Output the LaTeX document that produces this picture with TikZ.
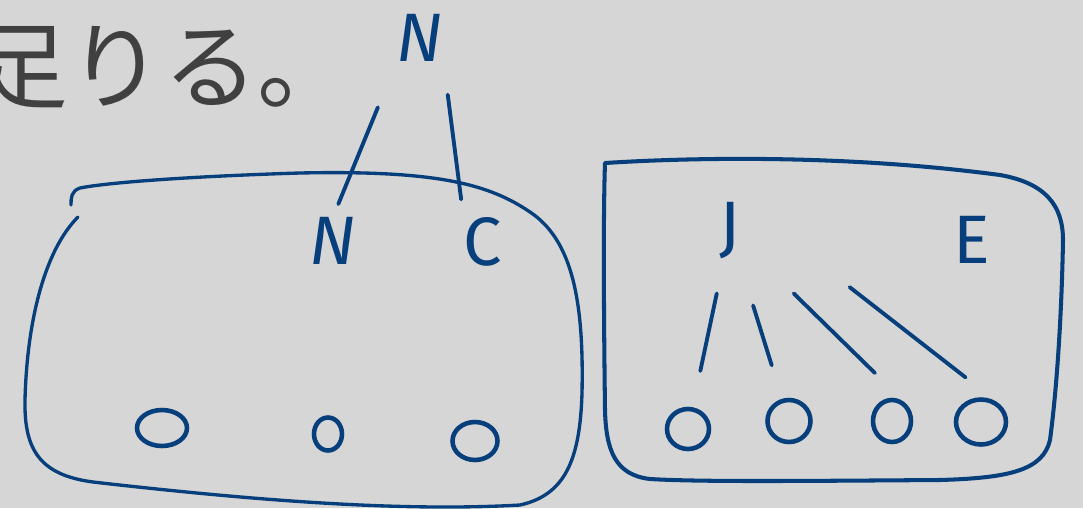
\documentclass[tikz,border=0pt]{standalone}
\usepackage{fontspec}
\setsansfont{Fira Sans}
\newfontfamily\jpfont{Noto Sans CJK JP}
\usetikzlibrary{shapes.geometric}
\definecolor{inkblue}{HTML}{063F7C}
\definecolor{boardgray}{HTML}{D6D6D6}
\definecolor{textgray}{HTML}{404040}

\begin{document}
\begin{tikzpicture}[x=0.02cm,y=-0.02cm,line cap=round,line join=round,
  every node/.style={font=\sffamily\fontsize{39}{39}\selectfont,text=inkblue,inner sep=0pt},
  leaf/.style={draw=inkblue,ellipse,line width=2.6pt,inner sep=0pt},
  branch/.style={draw=inkblue,line width=2.2pt},
  bag/.style={draw=inkblue,line width=1.9pt}]
  \useasboundingbox (0,0) rectangle (1083,508);
  \fill[boardgray] (0,0) rectangle (1083,508);
  \clip (0,0) rectangle (1083,508);

  % caption cut off at the left edge
  \node[font=\jpfont\fontsize{54}{54}\selectfont,text=textgray,anchor=base west] (caption) at (-27,101) {足りる。};

  % left group
  \node[font=\sffamily\itshape\fontsize{39}{39}\selectfont] (topn) at (420,38) {N};
  \node[font=\sffamily\itshape\fontsize{39}{39}\selectfont] (n) at (333,241) {N};
  \node (c) at (483,242) {C};
  \draw[branch,shorten <=9.8mm,shorten >=2.8mm] (topn.south west) -- (n.north);
  \draw[branch,shorten <=6.6mm,shorten >=3.6mm] (topn.south east) -- (c.north west);
  \draw[bag] (78,217) .. controls (45,250) and (27,320) .. (25,400)
    .. controls (24,450) and (40,475) .. (93,482)
    .. controls (250,500) and (400,512) .. (520,505)
    .. controls (565,495) and (580,460) .. (582,393)
    .. controls (584,300) and (572,240) .. (530,212)
    .. controls (490,185) and (440,170) .. (300,173)
    .. controls (200,176) and (110,182) .. (80,188)
    .. controls (71,191) and (71,198) .. (71,205);
  \node[leaf,minimum width=10mm,minimum height=7.2mm] (lo1) at (162,428) {};
  \node[leaf,minimum width=5.6mm,minimum height=6.6mm] (lo2) at (328,434) {};
  \node[leaf,minimum width=9mm,minimum height=7.6mm] (lo3) at (475,441) {};

  % right group
  \draw[bag,line width=2.3pt] (605,163) .. controls (700,157) and (850,155) .. (1000,175)
    .. controls (1045,183) and (1063,205) .. (1063,240)
    .. controls (1062,300) and (1058,380) .. (1050,440)
    .. controls (1043,470) and (1010,478) .. (940,480)
    .. controls (800,481) and (700,482) .. (650,479)
    .. controls (615,475) and (606,450) .. (605,410)
    .. controls (604,330) and (603,220) .. cycle;
  \node (j) at (730,231) {J};
  \node (e) at (972,240) {E};
  \node[leaf,minimum width=8.4mm,minimum height=8mm] (ro1) at (688,429) {};
  \node[leaf,minimum width=8.6mm,minimum height=8.4mm] (ro2) at (789,421) {};
  \node[leaf,minimum width=7.6mm,minimum height=8.4mm] (ro3) at (892,421) {};
  \node[leaf,minimum width=10mm,minimum height=9mm] (ro4) at (981,422) {};
  \draw[branch,shorten <=6.9mm,shorten >=7.4mm] (j) -- (ro1);
  \draw[branch,shorten <=9.6mm,shorten >=7mm] (j) -- (ro2);
  \draw[branch,shorten <=14.8mm,shorten >=9mm] (j) -- (ro3.north east);
  \draw[branch,shorten <=27.6mm,shorten >=8.8mm] (j.north east) -- (ro4.north east);
\end{tikzpicture}
\end{document}
